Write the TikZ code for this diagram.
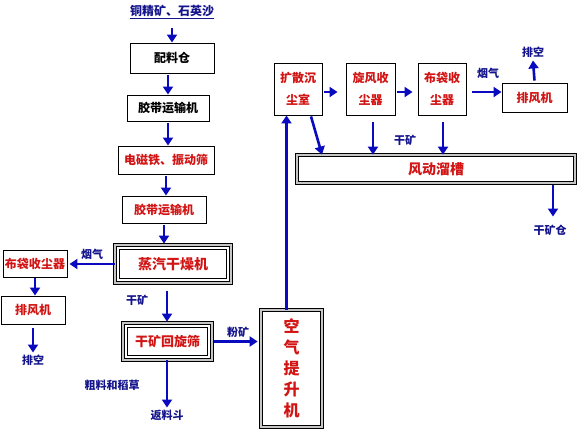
\documentclass[tikz,border=0pt]{standalone}
\usepackage{fontspec}
\newfontfamily\cjk{Noto Sans CJK SC}
\usetikzlibrary{arrows.meta}
\definecolor{arrblue}{RGB}{10,10,190}
\definecolor{lblue}{RGB}{20,20,140}
\definecolor{tred}{RGB}{210,20,20}
\begin{document}
\begin{tikzpicture}[x=1pt,y=-1pt,
  box/.style={draw=black, line width=0.9pt, inner sep=0pt, align=center,
    font=\cjk\bfseries\fontsize{12}{22}\selectfont},
  rt/.style={text=tred},
  lbl/.style={text=lblue, inner sep=0pt, font=\cjk\bfseries\fontsize{11}{13}\selectfont},
  arr/.style={draw=arrblue, line width=2.6pt, -{Triangle[length=8pt,width=10pt]}},
  dbl/.style={draw=black, line width=0.8pt, double=gray!45, double distance=1.6pt},
  inner/.style={draw=black, line width=0.9pt}
]
\useasboundingbox (0,0) rectangle (577,429);
\fill[white] (0,0) rectangle (577,429);

% left column
\node[lbl, font=\cjk\bfseries\fontsize{12}{14}\selectfont] (src) at (172,12) {\underline{铜精矿、石英沙}};
\node[box, minimum width=84pt, minimum height=30pt] (b1) at (172,58) {配料仓};
\node[box, minimum width=82pt, minimum height=26pt] (b2) at (168,108) {胶带运输机};
\node[box, rt, minimum width=96pt, minimum height=28pt] (b3) at (166,160) {电磁铁、振动筛};
\node[box, rt, minimum width=84pt, minimum height=27pt] (b4) at (164,209.5) {胶带运输机};
\node[box, rt, dbl, minimum width=116pt, minimum height=38pt,
  font=\cjk\bfseries\fontsize{14}{16}\selectfont] (dry) at (173,264) {蒸汽干燥机};
\draw[inner] ([shift={(5pt,-5pt)}]dry.north west) rectangle ([shift={(-5pt,5pt)}]dry.south east);

\node[box, rt, minimum width=64pt, minimum height=27pt] (bag1) at (35,263.5) {布袋收尘器};
\node[box, rt, minimum width=64pt, minimum height=28pt] (fan1) at (33,310) {排风机};
\node[lbl] (pk1) at (33,360) {排空};

\node[box, rt, dbl, minimum width=89pt, minimum height=37pt,
  font=\cjk\bfseries\fontsize{13}{15}\selectfont] (scr) at (167.5,341.5) {干矿回旋筛};
\draw[inner] ([shift={(5pt,-5pt)}]scr.north west) rectangle ([shift={(-5pt,5pt)}]scr.south east);
\node[lbl] (fl) at (167,415) {返料斗};

\node[box, rt, dbl, minimum width=61pt, minimum height=117pt,
  font=\cjk\bfseries\fontsize{16}{21}\selectfont] (lift) at (291.5,368.5) {空\\气\\提\\升\\机};

% top right
\node[box, rt, minimum width=48pt, minimum height=52pt] (kz) at (298,89) {扩散沉\\尘室};
\node[box, rt, minimum width=49pt, minimum height=52pt] (xf) at (370.5,89) {旋风收\\尘器};
\node[box, rt, minimum width=48pt, minimum height=52pt] (bd) at (442,89) {布袋收\\尘器};
\node[box, rt, minimum width=65pt, minimum height=29pt] (fan2) at (534.5,97.5) {排风机};
\node[lbl] (pk2) at (533,52) {排空};
\node[box, rt, dbl, minimum width=278pt, minimum height=28pt,
  font=\cjk\bfseries\fontsize{14}{16}\selectfont] (chute) at (436,169) {风动溜槽};
\node[lbl] (gkc) at (550,230) {干矿仓};

% arrows left column
\draw[arr] ([yshift=-9pt]src.south) -- (src.south |- b1.north);
\draw[arr] ([yshift=-2pt]b1.south -| b2) -- (b2.north);
\draw[arr] ([yshift=-2pt]b2.south) -- (b2.south |- b3.north);
\draw[arr] ([yshift=-2pt]b3.south) -- (b3.south |- b4.north);
\draw[arr] ([yshift=-2pt]b4.south) -- ([yshift=1pt]b4.south |- dry.north);
\draw[arr] (dry.west) -- ([xshift=2pt]dry.west -| bag1.east);
\node[lbl] (yq1) at (92,254) {烟气};
\draw[arr] ([yshift=-1pt]bag1.south) -- (bag1.south |- fan1.north);
\draw[arr] ([yshift=-4pt]fan1.south) -- ([yshift=2pt]pk1.north);
\draw[arr] ([yshift=-8pt]dry.south -| fl) -- ([yshift=1pt]scr.north -| fl);
\node[lbl] (gk1) at (137,300) {干矿};
\draw[arr] ([xshift=2pt]scr.east) -- ([xshift=-3pt]scr.east -| lift.west);
\node[lbl] (fk) at (238,332) {粉矿};
\draw[arr] (scr.south -| fl) -- ([yshift=2pt]fl.north);
\node[lbl] (cl) at (112,385) {粗料和稻草};

% arrows right
\draw[arr] ([xshift=-5pt]lift.north) -- ([xshift=-5pt]lift.north |- kz.south);
\draw[arr] ([yshift=-3pt,xshift=2pt]kz.east) -- ([yshift=-3pt,xshift=-8pt]xf.west);
\draw[arr] ([yshift=-3pt,xshift=2pt]xf.east) -- ([yshift=-3pt,xshift=-5pt]bd.west);
\draw[arr] ([yshift=-3pt,xshift=6pt]bd.east) -- ([yshift=-3pt]bd.east -| fan2.west);
\node[lbl] (yq2) at (488,73) {烟气};
\draw[arr] ([yshift=2pt]fan2.north) -- ([yshift=-3pt]pk2.south);
\draw[arr] ([xshift=13pt,yshift=-1pt]kz.south) -- ([xshift=24pt]kz.south |- chute.north);
\draw[arr] ([xshift=2.5pt,yshift=-7pt]xf.south) -- ([xshift=2.5pt]xf.south |- chute.north);
\draw[arr] ([xshift=1pt,yshift=-7pt]bd.south) -- ([xshift=1pt]bd.south |- chute.north);
\node[lbl] (gk2) at (405,140) {干矿};
\draw[arr, shorten >=8pt] ([xshift=117pt,yshift=-2pt]chute.south) -- ([xshift=117pt]chute.south |- gkc.north);
\end{tikzpicture}
\end{document}
